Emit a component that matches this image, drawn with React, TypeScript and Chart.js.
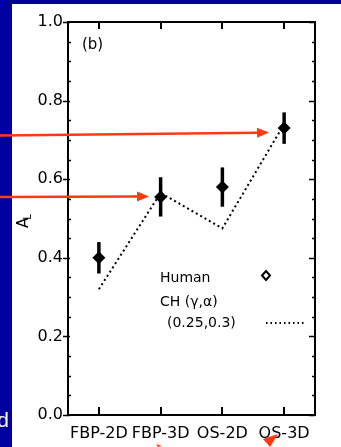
import React, { useEffect, useRef } from 'react';
import { Chart, registerables } from 'chart.js';

Chart.register(...registerables);

const categories = ['FBP-2D', 'FBP-3D', 'OS-2D', 'OS-3D'];
const humanValues = [0.4, 0.555, 0.58, 0.73];
const humanErrors = [0.04, 0.05, 0.05, 0.04];
const chValues = [0.32, 0.565, 0.475, 0.74];
const yTickValues = [0, 0.2, 0.4, 0.6, 0.8, 1.0];
const legendHuman = 'Human';
const legendCH1 = 'CH (γ,α)';
const legendCH2 = '(0.25,0.3)';
const panelLabel = '(b)';

const FONT = '"DejaVu Sans", sans-serif';
const BLUE = '#00009c';
const RED = '#ff3a12';

const background = {
  id: 'background',
  beforeDraw(chart: any) {
    const { ctx, width, height } = chart;
    ctx.save();
    ctx.fillStyle = BLUE;
    ctx.fillRect(0, 0, width, height);
    ctx.fillStyle = '#ffffff';
    ctx.fillRect(12, 4, width - 12, height - 4);
    ctx.restore();
  },
};

const errorBars = {
  id: 'errorBars',
  beforeDatasetsDraw(chart: any) {
    const { ctx, scales } = chart;
    const xs = scales.x, ys = scales.y;
    ctx.save();
    ctx.strokeStyle = '#000';
    ctx.lineWidth = 3.5;
    humanValues.forEach((v, i) => {
      const px = xs.getPixelForValue(i);
      ctx.beginPath();
      ctx.moveTo(px, ys.getPixelForValue(v - humanErrors[i]));
      ctx.lineTo(px, ys.getPixelForValue(v + humanErrors[i]));
      ctx.stroke();
    });
    ctx.restore();
  },
};

function arrow(ctx: any, x1: number, y1: number, x2: number, y2: number) {
  const ang = Math.atan2(y2 - y1, x2 - x1);
  const hl = 12, hw = 5;
  const bx = x2 - hl * Math.cos(ang), by = y2 - hl * Math.sin(ang);
  ctx.beginPath();
  ctx.moveTo(x1, y1);
  ctx.lineTo(bx, by);
  ctx.stroke();
  ctx.beginPath();
  ctx.moveTo(x2, y2);
  ctx.lineTo(bx - hw * Math.sin(ang), by + hw * Math.cos(ang));
  ctx.lineTo(bx + hw * Math.sin(ang), by - hw * Math.cos(ang));
  ctx.closePath();
  ctx.fill();
}

const decorations = {
  id: 'decorations',
  afterDraw(chart: any) {
    const { ctx, chartArea: a, scales } = chart;
    const xs = scales.x, ys = scales.y;
    ctx.save();
    ctx.strokeStyle = '#000';
    ctx.fillStyle = '#000';
    ctx.lineWidth = 2;
    ctx.strokeRect(a.left, a.top, a.right - a.left, a.bottom - a.top);

    // y ticks (major + minor), left and right
    ctx.lineWidth = 1.5;
    for (let i = 0; i <= 20; i++) {
      const v = i * 0.05;
      const py = Math.round(ys.getPixelForValue(v)) + 0.5;
      const major = i % 4 === 0;
      ctx.beginPath();
      if (major) {
        ctx.moveTo(a.left - 5, py); ctx.lineTo(a.left + 2, py);
        ctx.moveTo(a.right, py); ctx.lineTo(a.right - 6, py);
      } else {
        ctx.moveTo(a.left, py); ctx.lineTo(a.left + 3, py);
        ctx.moveTo(a.right, py); ctx.lineTo(a.right - 3, py);
      }
      ctx.stroke();
    }
    // x ticks top and bottom
    ctx.lineWidth = 2;
    categories.forEach((_, i) => {
      const px = Math.round(xs.getPixelForValue(i));
      ctx.beginPath();
      ctx.moveTo(px, a.bottom); ctx.lineTo(px, a.bottom - 8);
      ctx.moveTo(px, a.top); ctx.lineTo(px, a.top + 7);
      ctx.stroke();
    });

    // panel label
    ctx.font = `15px ${FONT}`;
    ctx.textBaseline = 'middle';
    ctx.textAlign = 'left';
    ctx.fillText(panelLabel, a.left + 14, a.top + 23);

    // y axis title A_L
    ctx.save();
    ctx.translate(28, 228);
    ctx.rotate(-Math.PI / 2);
    ctx.textBaseline = 'alphabetic';
    ctx.font = `15px ${FONT}`;
    ctx.fillText('A', 0, 0);
    const w = ctx.measureText('A').width;
    ctx.font = `10px ${FONT}`;
    ctx.fillText('L', w - 2, 3);
    ctx.restore();

    // legend
    ctx.font = `14px ${FONT}`;
    ctx.textBaseline = 'middle';
    ctx.fillText(legendHuman, 160, 278);
    ctx.fillText(legendCH1, 160, 302);
    ctx.fillText(legendCH2, 167, 323);
    ctx.lineWidth = 2;
    ctx.beginPath();
    ctx.moveTo(266, 271); ctx.lineTo(270, 275.5); ctx.lineTo(266, 280); ctx.lineTo(262, 275.5); ctx.closePath();
    ctx.stroke();
    ctx.setLineDash([1.5, 3]);
    ctx.beginPath();
    ctx.moveTo(266, 323); ctx.lineTo(304, 323);
    ctx.stroke();
    ctx.setLineDash([]);

    // slide overlays: red arrows and cut text
    ctx.strokeStyle = RED;
    ctx.fillStyle = RED;
    ctx.lineWidth = 2.5;
    arrow(ctx, 0, 135.5, 269, 132.5);
    arrow(ctx, 0, 197, 149, 196.5);
    ctx.beginPath();
    ctx.moveTo(263, 439); ctx.lineTo(278, 434); ctx.lineTo(270, 447); ctx.closePath();
    ctx.fill();
    ctx.beginPath();
    ctx.moveTo(156, 444); ctx.lineTo(162, 446); ctx.lineTo(158, 447); ctx.closePath();
    ctx.fill();

    ctx.fillStyle = '#ffffff';
    ctx.font = '21px "Liberation Sans", sans-serif';
    ctx.textAlign = 'right';
    ctx.textBaseline = 'alphabetic';
    ctx.fillText('d', 9, 427);
    ctx.restore();
  },
};

export default function App() {
  const ref = useRef<HTMLCanvasElement>(null);
  useEffect(() => {
    const chart = new Chart(ref.current as HTMLCanvasElement, {
      type: 'line',
      data: {
        labels: categories,
        datasets: [
          {
            label: legendHuman,
            data: humanValues,
            showLine: false,
            pointStyle: 'rectRot',
            pointRadius: 6.5,
            backgroundColor: '#000',
            borderColor: '#000',
            borderWidth: 0,
          },
          {
            label: 'CH',
            data: chValues,
            borderColor: '#000',
            borderWidth: 2,
            borderDash: [2, 3],
            pointRadius: 0,
            fill: false,
          },
        ],
      },
      options: {
        responsive: false,
        animation: false,
        layout: { padding: { left: 0, top: 22, right: 26, bottom: 0 } },
        plugins: { legend: { display: false }, tooltip: { enabled: false } },
        scales: {
          x: {
            type: 'category',
            offset: true,
            grid: { display: false, drawTicks: false },
            border: { display: false },
            ticks: { color: '#000', font: { family: FONT, size: 16 }, padding: 9, maxRotation: 0, autoSkip: false },
            afterFit: (s: any) => { s.height = 32; },
          },
          y: {
            min: 0,
            max: 1,
            grid: { display: false, drawTicks: false },
            border: { display: false },
            afterBuildTicks: (s: any) => { s.ticks = yTickValues.map((v) => ({ value: v })); },
            ticks: { color: '#000', font: { family: FONT, size: 16 }, padding: 5, callback: (v: any) => Number(v).toFixed(1) },
            afterFit: (s: any) => { s.width = 68; },
          },
        },
      },
      plugins: [background, errorBars, decorations],
    });
    return () => chart.destroy();
  }, []);
  return (
    <div style={{ position: 'absolute', left: 0, top: 0, width: 341, height: 447 }}>
      <canvas ref={ref} width={341} height={447} style={{ display: 'block' }} />
    </div>
  );
}
